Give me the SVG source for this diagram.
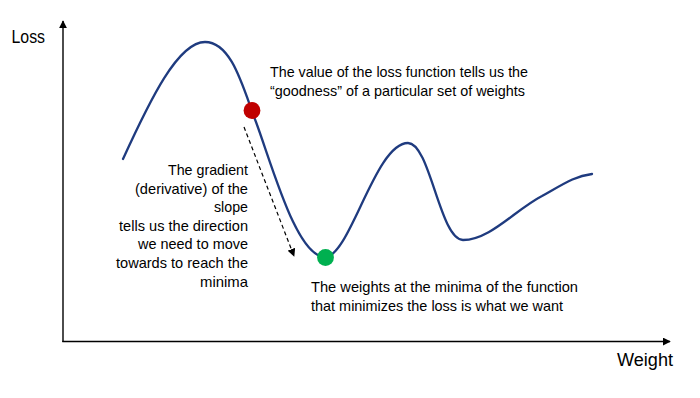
<svg xmlns="http://www.w3.org/2000/svg" width="700" height="398" viewBox="0 0 700 398">
  <style>
    .t { font-family: "Liberation Sans", Arial, sans-serif; font-size: 14.6px; fill: #000; }
    .ax { font-family: "Liberation Sans", Arial, sans-serif; font-size: 17.5px; fill: #000; }
    .axis { stroke: #000; stroke-width: 1.4; fill: none; }
    .curve { stroke: #1f3b7f; stroke-width: 2.3; fill: none; stroke-linecap: round; stroke-linejoin: round; }
    .dash { stroke: #000; stroke-width: 1.2; stroke-dasharray: 4 3; fill: none; }
  </style>
  <defs>
    <marker id="axhead" viewBox="0 0 10 10" refX="9" refY="5" markerWidth="8" markerHeight="8" markerUnits="userSpaceOnUse" orient="auto">
      <path d="M0,0 L10,5 L0,10 z" fill="#000"/>
    </marker>
    <marker id="dhead" viewBox="0 0 10 10" refX="9" refY="5" markerWidth="8" markerHeight="8" markerUnits="userSpaceOnUse" orient="auto">
      <path d="M0,0 L10,5 L0,10 z" fill="#000"/>
    </marker>
  </defs>
  <rect width="700" height="398" fill="#fff"/>

  <g id="axes">
    <line class="axis" x1="63" y1="342" x2="63" y2="21" marker-end="url(#axhead)"/>
    <line class="axis" x1="62.3" y1="341.5" x2="670" y2="341.5" marker-end="url(#axhead)"/>
    <text class="ax" x="11.5" y="42.7" textLength="33.5" lengthAdjust="spacingAndGlyphs">Loss</text>
    <text class="ax" x="617" y="365.7" textLength="56" lengthAdjust="spacingAndGlyphs">Weight</text>
  </g>

  <g id="loss-curve">
    <path class="curve" d="M123,159 C150,100 178,42 205,42 C232,42 243,88 256,122 C273,168 297,257 325,257 C350,257 375,143 408,143 C430,143 440,240 463,240 C490,240 515,210 542,196 C565,183 575,176 592,174"/>
  </g>

  <g id="current-point">
    <circle cx="252" cy="110.5" r="8.4" fill="#c00000"/>
  </g>
  <g id="minimum-point">
    <circle cx="325.5" cy="257.5" r="8.4" fill="#00b050"/>
  </g>

  <g id="connectors">
    <line class="dash" x1="244" y1="127" x2="294" y2="256" marker-end="url(#dhead)"/>
  </g>

  <g id="label-value">
    <text class="t" x="270" y="77" textLength="258" lengthAdjust="spacingAndGlyphs">The value of the loss function tells us the</text>
    <text class="t" x="270" y="95.5" textLength="255" lengthAdjust="spacingAndGlyphs">“goodness” of a particular set of weights</text>
  </g>

  <g id="label-gradient">
    <text class="t" x="248" y="175" text-anchor="end" textLength="80" lengthAdjust="spacingAndGlyphs">The gradient</text>
    <text class="t" x="248" y="193.6" text-anchor="end" textLength="113" lengthAdjust="spacingAndGlyphs">(derivative) of the</text>
    <text class="t" x="248" y="212.2" text-anchor="end" textLength="34" lengthAdjust="spacingAndGlyphs">slope</text>
    <text class="t" x="248" y="230.8" text-anchor="end" textLength="129" lengthAdjust="spacingAndGlyphs">tells us the direction</text>
    <text class="t" x="248" y="249.4" text-anchor="end" textLength="110" lengthAdjust="spacingAndGlyphs">we need to move</text>
    <text class="t" x="248" y="268" text-anchor="end" textLength="132" lengthAdjust="spacingAndGlyphs">towards to reach the</text>
    <text class="t" x="248" y="286.6" text-anchor="end" textLength="48" lengthAdjust="spacingAndGlyphs">minima</text>
  </g>

  <g id="label-minima">
    <text class="t" x="311" y="292" textLength="267" lengthAdjust="spacingAndGlyphs">The weights at the minima of the function</text>
    <text class="t" x="311" y="310.5" textLength="252" lengthAdjust="spacingAndGlyphs">that minimizes the loss is what we want</text>
  </g>
</svg>
